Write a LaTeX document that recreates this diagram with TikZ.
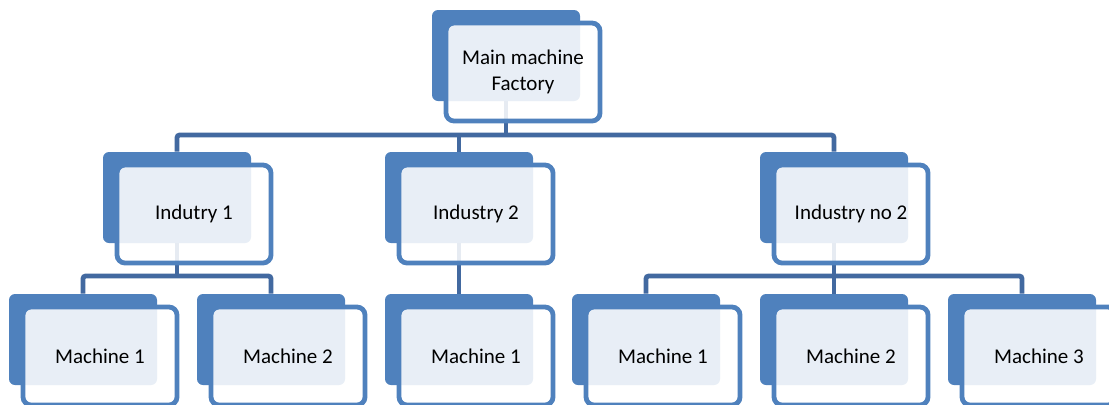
\documentclass[tikz,border=0pt]{standalone}
\usepackage{fontspec}
\setmainfont{Carlito}
\usetikzlibrary{calc}
\definecolor{boxblue}{RGB}{79,129,189}
\definecolor{linkblue}{RGB}{66,105,160}

\begin{document}
\begin{tikzpicture}[x=0.75pt, y=-0.75pt,
            back/.style={fill=boxblue, draw=none, rounded corners=4.5pt, minimum width=111pt, minimum height=68.25pt, inner sep=0pt},
            front/.style={fill=white, fill opacity=0.87, text opacity=1, draw=boxblue, draw opacity=1, line width=3.6pt, rounded corners=6pt, minimum width=115.5pt, minimum height=73.5pt, inner sep=0pt, align=center, font=\fontsize{15.75}{19}\selectfont},
            link/.style={draw=linkblue, line width=3.6pt, rounded corners=2pt},
        ]
            \useasboundingbox (0, 0) rectangle (1109, 404);
            \clip (0, 0) rectangle (1109, 404);
            %% back boxes
            \node[back] at (506, 55.5) (main-back) {};
            \node[back] at (177, 197.5) (ind1-back) {};
            \node[back] at (459, 197.5) (ind2-back) {};
            \node[back] at (834, 197.5) (ind3-back) {};
            \node[back] at (83, 339.5) (m1-back) {};
            \node[back] at (271, 339.5) (m2-back) {};
            \node[back] at (459, 339.5) (m3-back) {};
            \node[back] at (646, 339.5) (m4-back) {};
            \node[back] at (834, 339.5) (m5-back) {};
            \node[back] at (1022, 339.5) (m6-back) {};
            %% buses
            \coordinate (top-bus) at (0, 135);
            \coordinate (low-bus) at (0, 276);
            %% connection
            \draw[link] (main-back.south) -- (main-back.south |- top-bus);
            \draw[link] (ind1-back.north) -- (ind1-back.north |- top-bus) -| (ind3-back.north);
            \draw[link] (ind2-back.north) -- (ind2-back.north |- top-bus);
            \draw[link] (ind1-back.south) -- (ind1-back.south |- low-bus);
            \draw[link] (m1-back.north) -- (m1-back.north |- low-bus) -| (m2-back.north);
            \draw[link] (ind2-back.south) -- (m3-back.north);
            \draw[link] (ind3-back.south) -- (ind3-back.south |- low-bus);
            \draw[link] (m4-back.north) -- (m4-back.north |- low-bus) -| (m6-back.north);
            \draw[link] (m5-back.north) -- (m5-back.north |- low-bus);
            %% front boxes
            \node[front] at ($(main-back) + (17, 16.5)$) (main) {Main machine\\Factory};
            \node[front] at ($(ind1-back) + (17, 16.5)$) (ind1) {Indutry 1};
            \node[front] at ($(ind2-back) + (17, 16.5)$) (ind2) {Industry 2};
            \node[front] at ($(ind3-back) + (17, 16.5)$) (ind3) {Industry no 2};
            \node[front] at ($(m1-back) + (17, 16.5)$) (m1) {Machine 1};
            \node[front] at ($(m2-back) + (17, 16.5)$) (m2) {Machine 2};
            \node[front] at ($(m3-back) + (17, 16.5)$) (m3) {Machine 1};
            \node[front] at ($(m4-back) + (17, 16.5)$) (m4) {Machine 1};
            \node[front] at ($(m5-back) + (17, 16.5)$) (m5) {Machine 2};
            \node[front] at ($(m6-back) + (17, 16.5)$) (m6) {Machine 3};

        \end{tikzpicture}
\end{document}
